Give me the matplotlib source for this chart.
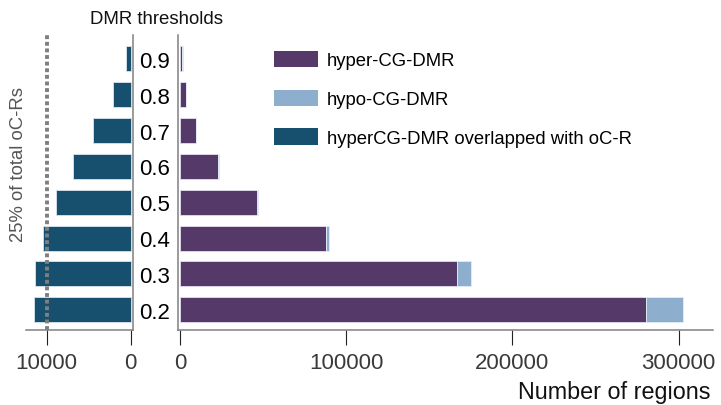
import matplotlib
matplotlib.use("Agg")
import matplotlib.pyplot as plt
from matplotlib.patches import Patch
import numpy as np

plt.rcParams['font.family'] = ['Liberation Sans', 'DejaVu Sans']

thresholds = ['0.2', '0.3', '0.4', '0.5', '0.6', '0.7', '0.8', '0.9']
overlap_oCR = [11510, 11390, 10400, 8890, 6900, 4520, 2070, 560]
hyper_dmr = [280200, 166600, 87500, 45900, 22800, 9150, 3100, 1200]
hypo_dmr = [22700, 8700, 1700, 600, 200, 100, 50, 30]
quarter_oCR = 10000
left_ticks = [10000, 0]
right_ticks = [0, 100000, 200000, 300000]

c_hyper = '#553969'
c_hypo = '#8daecd'
c_overlap = '#17506e'
spine_c = '#808080'
tick_lab_c = '#3a3a3a'

W, H = 721, 406
fig = plt.figure(figsize=(W / 100, H / 100), dpi=100)

def fx(px):
    return px / W

def fy(py):
    return 1 - py / H

top, bot = 36, 331
axL = fig.add_axes([fx(26), fy(bot), fx(133.3 - 26), (bot - top) / H])
axR = fig.add_axes([fx(178.3), fy(bot), fx(712.7 - 178.3), (bot - top) / H])

y = np.arange(len(thresholds))
bh = 0.70

axL.barh(y, overlap_oCR, height=bh, color=c_overlap, edgecolor='#d8e4ee', linewidth=0.6)
axL.axvline(quarter_oCR, color='#7f7f7f', linestyle=(0, (1, 0.7)), linewidth=2.8, zorder=5)
axL.set_xlim(12460, -310)

axR.barh(y, hyper_dmr, height=bh, color=c_hyper, edgecolor='#e4def0', linewidth=0.6)
axR.barh(y, hypo_dmr, left=hyper_dmr, height=bh, color=c_hypo, edgecolor='#e4ecf4', linewidth=0.6)
axR.set_xlim(-1300, 320600)

for ax in (axL, axR):
    ax.set_ylim(-0.563, 7.663)
    ax.spines['top'].set_visible(False)
    for s in ax.spines.values():
        s.set_color(spine_c)
        s.set_linewidth(1.1)
    ax.tick_params(axis='x', length=11, width=0.8, color='#222222', labelsize=16,
                   labelcolor=tick_lab_c, pad=5)

axL.spines['left'].set_visible(False)
axL.set_yticks([])
axL.set_xticks(left_ticks)
axL.set_xticklabels([str(v) for v in left_ticks])

axR.spines['right'].set_visible(False)
axR.set_yticks(y)
axR.set_yticklabels(thresholds, fontsize=16, color='black')
axR.tick_params(axis='y', length=0, pad=6)
axR.set_xticks(right_ticks)
axR.set_xticklabels([str(v) for v in right_ticks])

fig.text(fx(156), fy(20), 'DMR thresholds', fontsize=13.4, ha='center', va='center', color='#111111')
fig.text(fx(19), fy(165), '25% of total oC-Rs', fontsize=13.3, rotation=90,
         ha='center', va='center', color='#555555')
fig.text(fx(711), fy(393), 'Number of regions', fontsize=16.8, ha='right', va='center', color='#111111')

handles = [Patch(facecolor=c_hyper, edgecolor='none', label='hyper-CG-DMR'),
           Patch(facecolor=c_hypo, edgecolor='none', label='hypo-CG-DMR'),
           Patch(facecolor=c_overlap, edgecolor='none', label='hyperCG-DMR overlapped with oC-R')]
fig.legend(handles=handles, loc='upper left', bbox_to_anchor=(fx(274), fy(52)),
           frameon=False, fontsize=13.3, handlelength=2.38, handleheight=0.97,
           handletextpad=0.49, labelspacing=1.1, borderpad=0, borderaxespad=0)

fig.savefig('out.png', dpi=100)
